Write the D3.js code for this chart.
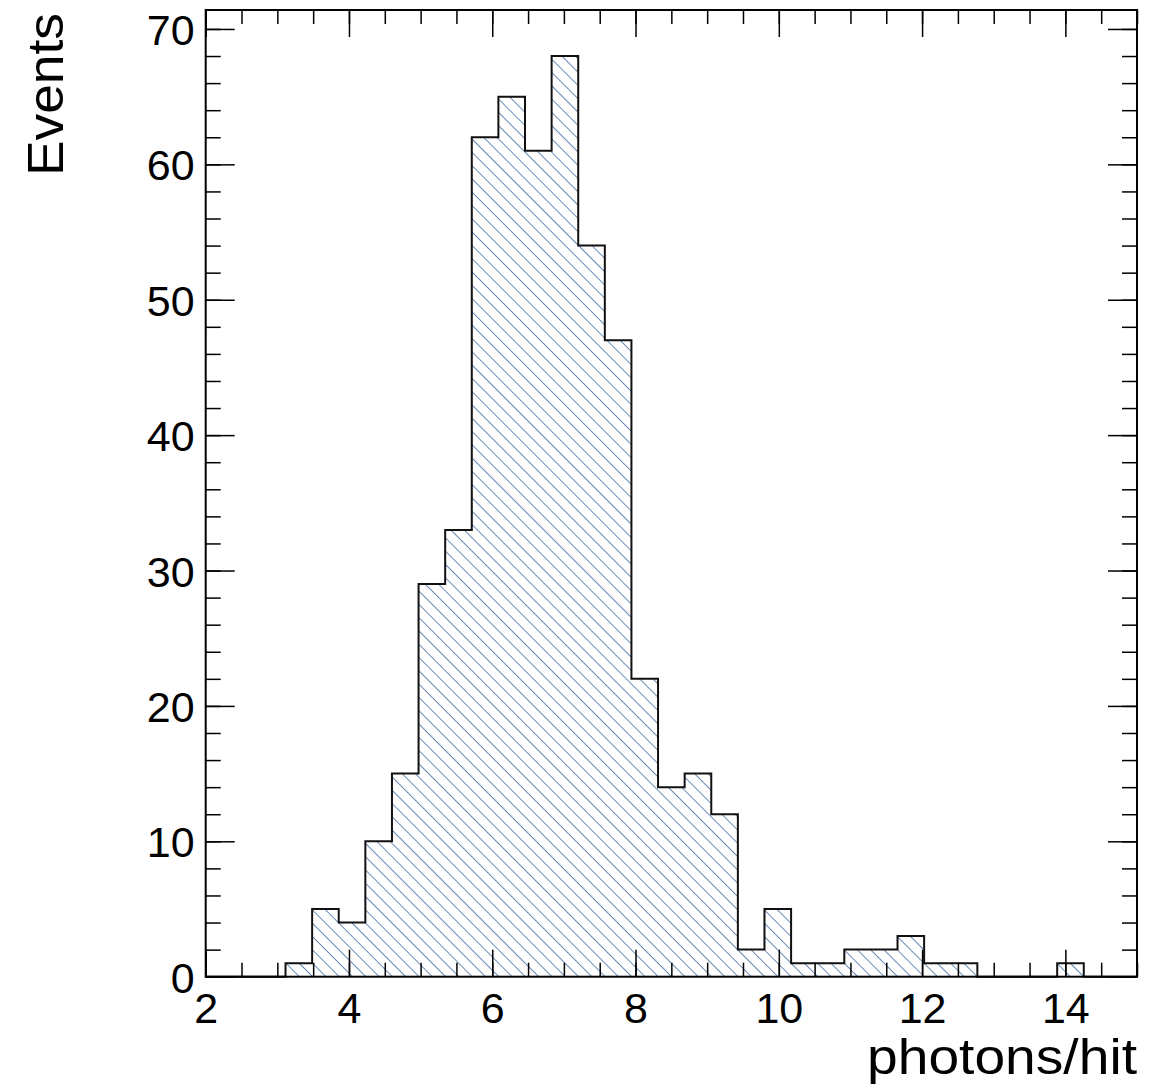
<!DOCTYPE html>
<html>
<head>
<meta charset="utf-8">
<script src="https://cdn.jsdelivr.net/npm/d3@7"></script>
<style>
  html, body { margin: 0; padding: 0; background: #fff; }
  svg { display: block; }
  text { font-family: "Liberation Sans", Arial, Helvetica, sans-serif; fill: #000; }
</style>
</head>
<body>
<svg id="chart" width="1157" height="1089"></svg>
<script>
// ---- data ----
const binRange = [2, 15];
const counts = [0, 0, 0, 1, 5, 4, 10, 15, 29, 33, 62, 65, 61, 68, 54, 47, 22, 14, 15, 12,
                2, 5, 1, 1, 2, 2, 3, 1, 1, 0, 0, 0, 1, 0, 0];
const xTickLabels = [2, 4, 6, 8, 10, 12, 14];
const xMinorTicks = [2, 2.5, 3, 3.5, 4, 4.5, 5, 5.5, 6, 6.5, 7, 7.5, 8, 8.5, 9, 9.5, 10, 10.5, 11, 11.5, 12, 12.5, 13, 13.5, 14, 14.5, 15];
const yTickLabels = [0, 10, 20, 30, 40, 50, 60, 70];
const yMinorTicks = [0, 2, 4, 6, 8, 10, 12, 14, 16, 18, 20, 22, 24, 26, 28, 30, 32, 34, 36, 38, 40,
                     42, 44, 46, 48, 50, 52, 54, 56, 58, 60, 62, 64, 66, 68, 70];
const yMax = 71.4;
const xTitle = "photons/hit";
const yTitle = "Events";

// ---- layout ----
const L = 205.7, R = 1137, T = 10, B = 976.7;
const svg = d3.select("#chart");
const x = d3.scaleLinear().domain(binRange).range([L, R]);
const y = d3.scaleLinear().domain([0, yMax]).range([B, T]);

const nb = counts.length;
const bw = (binRange[1] - binRange[0]) / nb;
const bins = counts.map((c, i) => ({ x0: binRange[0] + i * bw, x1: binRange[0] + (i + 1) * bw, c }));

// hatch pattern (\\\ direction)
const defs = svg.append("defs");
const pat = defs.append("pattern")
  .attr("id", "hatch")
  .attr("patternUnits", "userSpaceOnUse")
  .attr("width", 9.4).attr("height", 9.4)
  .attr("patternTransform", "rotate(-45)");
pat.append("line")
  .attr("x1", 0).attr("y1", -1).attr("x2", 0).attr("y2", 10.4)
  .attr("stroke", "#2c5c96").attr("stroke-width", 1.4);

// histogram step path
const pts = [[x(bins[0].x0), y(0)]];
bins.forEach(b => { pts.push([x(b.x0), y(b.c)]); pts.push([x(b.x1), y(b.c)]); });
pts.push([x(bins[nb - 1].x1), y(0)]);
const line = d3.line();
svg.append("path")
  .attr("d", line(pts) + "Z")
  .attr("fill", "url(#hatch)")
  .attr("stroke", "none");
svg.append("path")
  .attr("d", line(pts))
  .attr("fill", "none")
  .attr("stroke", "#111")
  .attr("stroke-width", 2);

// ticks
const tickStyle = g => { g.select(".domain").remove(); g.selectAll("line").attr("stroke", "#000").attr("stroke-width", 1.5); };

svg.append("g").attr("transform", `translate(0,${B})`)
  .call(d3.axisBottom(x).tickValues(xMinorTicks).tickSize(-14).tickFormat(""))
  .call(tickStyle);
svg.append("g").attr("transform", `translate(0,${T})`)
  .call(d3.axisTop(x).tickValues(xMinorTicks).tickSize(-14).tickFormat(""))
  .call(tickStyle);
svg.append("g").attr("transform", `translate(0,${B})`)
  .call(d3.axisBottom(x).tickValues(xTickLabels).tickSize(-27).tickPadding(16).tickFormat(d3.format("d")))
  .call(tickStyle)
  .call(g => g.selectAll("text").attr("font-size", 43).attr("font-family", "Liberation Sans, Arial, sans-serif"));
svg.append("g").attr("transform", `translate(0,${T})`)
  .call(d3.axisTop(x).tickValues(xTickLabels).tickSize(-27).tickFormat(""))
  .call(tickStyle);

svg.append("g").attr("transform", `translate(${L},0)`)
  .call(d3.axisLeft(y).tickValues(yMinorTicks).tickSize(-15).tickFormat(""))
  .call(tickStyle);
svg.append("g").attr("transform", `translate(${R},0)`)
  .call(d3.axisRight(y).tickValues(yMinorTicks).tickSize(-15).tickFormat(""))
  .call(tickStyle);
svg.append("g").attr("transform", `translate(${L},0)`)
  .call(d3.axisLeft(y).tickValues(yTickLabels).tickSize(-29).tickPadding(11).tickFormat(d3.format("d")))
  .call(tickStyle)
  .call(g => g.selectAll("text").attr("font-size", 43).attr("dy", "0.36em").attr("font-family", "Liberation Sans, Arial, sans-serif"));
svg.append("g").attr("transform", `translate(${R},0)`)
  .call(d3.axisRight(y).tickValues(yTickLabels).tickSize(-29).tickFormat(""))
  .call(tickStyle);

// frame
svg.append("rect")
  .attr("x", L).attr("y", T).attr("width", R - L).attr("height", B - T)
  .attr("fill", "none").attr("stroke", "#000").attr("stroke-width", 2);

// titles
svg.append("text")
  .attr("x", R).attr("y", 1074)
  .attr("text-anchor", "end")
  .attr("font-size", 50)
  .attr("textLength", 270).attr("lengthAdjust", "spacingAndGlyphs")
  .text(xTitle);
svg.append("text")
  .attr("transform", "translate(63,13) rotate(-90)")
  .attr("text-anchor", "end")
  .attr("font-size", 50)
  .attr("textLength", 163).attr("lengthAdjust", "spacingAndGlyphs")
  .text(yTitle);
</script>
</body>
</html>
